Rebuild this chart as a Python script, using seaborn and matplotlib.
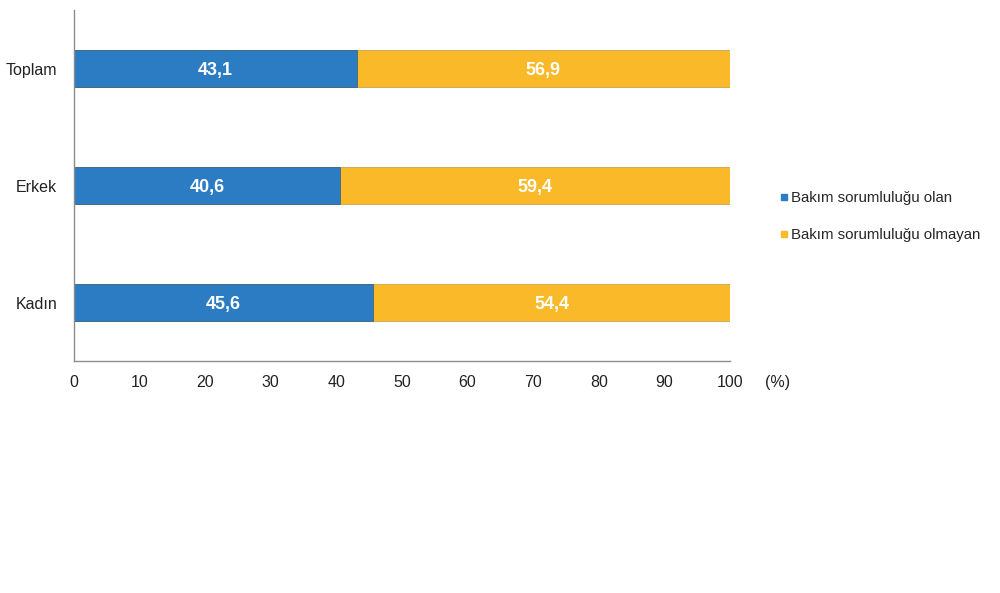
import matplotlib
matplotlib.use("Agg")
import pandas as pd
import seaborn as sns
import matplotlib.pyplot as plt
from matplotlib.lines import Line2D

categories = ["Toplam", "Erkek", "Kadın"]
olan = [43.1, 40.6, 45.6]
olmayan = [56.9, 59.4, 54.4]
series_names = ["Bakım sorumluluğu olan", "Bakım sorumluluğu olmayan"]
xticks = [0, 10, 20, 30, 40, 50, 60, 70, 80, 90, 100]

blue = "#2B7CC2"
yellow = "#F9B928"

df = pd.DataFrame({"Grup": categories, "olan": olan, "olmayan": olmayan})
df["toplam"] = df["olan"] + df["olmayan"]

sns.set_theme(style="white")
plt.rcParams["font.family"] = ["Liberation Sans", "DejaVu Sans"]

fig = plt.figure(figsize=(10, 5.93), dpi=100)
ax = fig.add_axes([0.074, 0.391, 0.656, 0.592])

sns.barplot(data=df, y="Grup", x="toplam", color=yellow, orient="h", width=0.31,
            saturation=1, ax=ax, edgecolor="#b08a2a", linewidth=0.4)
sns.barplot(data=df, y="Grup", x="olan", color=blue, orient="h", width=0.31,
            saturation=1, ax=ax, edgecolor="#1d4f7a", linewidth=0.4)

# value labels
for i, row in df.iterrows():
    ax.text(row["olan"] / 2, i, f"{row['olan']:.1f}".replace(".", ","), color="white",
            fontsize=13, fontweight="bold", ha="center", va="center_baseline")
    ax.text(row["olan"] + row["olmayan"] / 2, i, f"{row['olmayan']:.1f}".replace(".", ","),
            color="white", fontsize=13, fontweight="bold", ha="center", va="center_baseline")

ax.set_xlim(0, 100)
ax.set_ylim(2.5, -0.5)
ax.set_xticks(xticks)
ax.set_xticklabels([str(t) for t in xticks], fontsize=11.5, color="#222222")
ax.tick_params(axis="y", labelsize=11.5, labelcolor="#222222", length=0, pad=12)
ax.tick_params(axis="x", length=0, pad=10)
ax.set_xlabel("")
ax.set_ylabel("")
for s in ["top", "right"]:
    ax.spines[s].set_visible(False)
for s in ["left", "bottom"]:
    ax.spines[s].set_color("#8c8c8c")
    ax.spines[s].set_linewidth(1)

ax.text(1.053, -0.062, "(%)", transform=ax.transAxes, fontsize=11.5, color="#222222",
        ha="left", va="center")

handles = [Line2D([], [], marker="s", linestyle="", color=blue, markersize=5),
           Line2D([], [], marker="s", linestyle="", color=yellow, markersize=5)]
fig.legend(handles, series_names, loc="center left", bbox_to_anchor=(0.764, 0.635),
           frameon=False, fontsize=10.8, handletextpad=0.1, labelspacing=1.55,
           handlelength=0.8)

fig.savefig("out.png", dpi=100, facecolor="white")
